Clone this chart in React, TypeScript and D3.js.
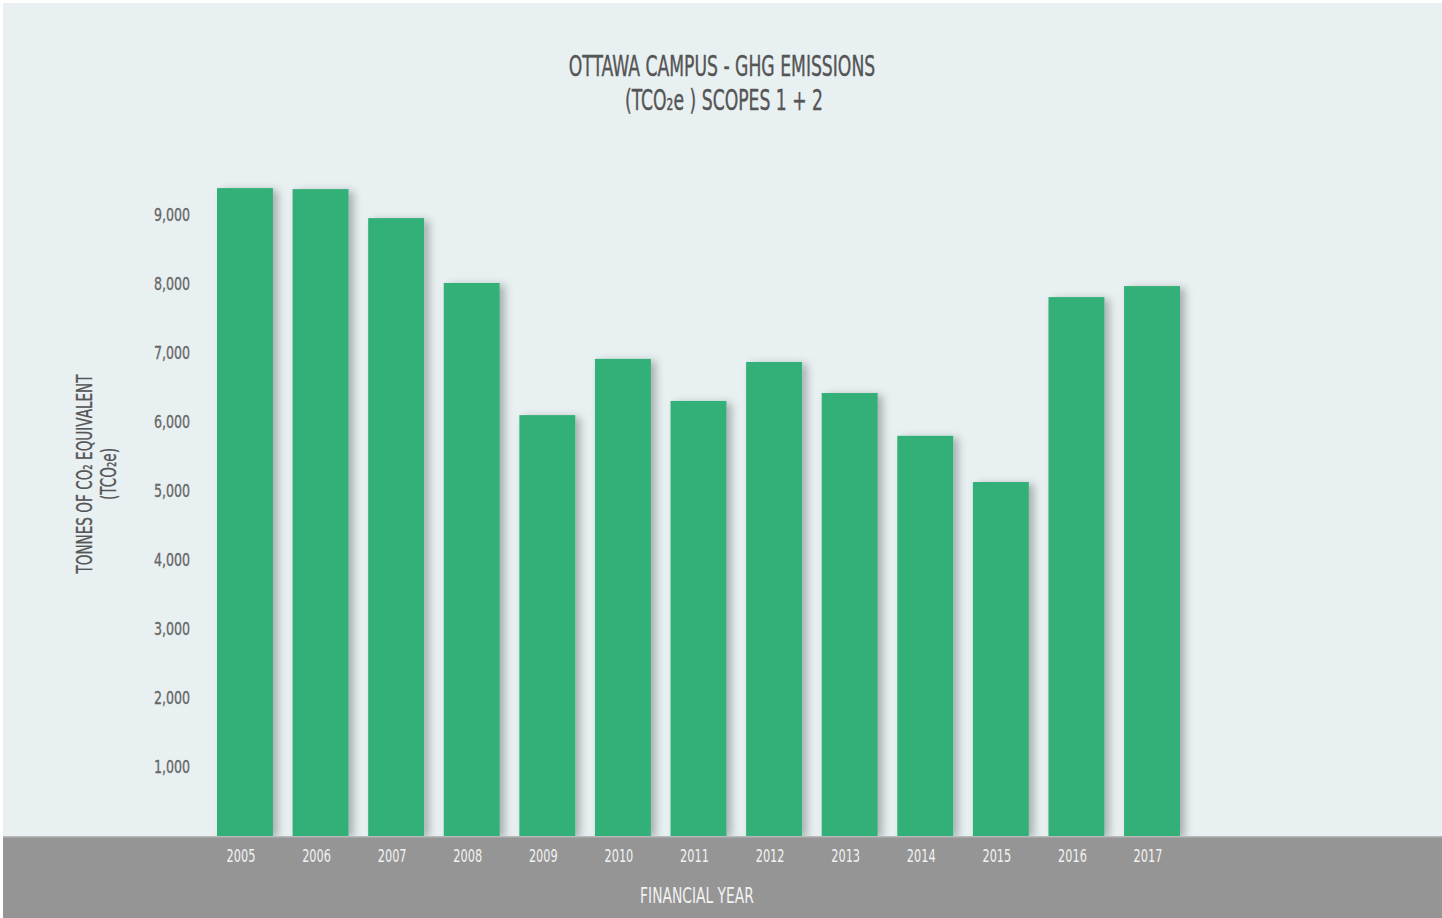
import React from "react";
import * as d3 from "d3";

const years = ["2005","2006","2007","2008","2009","2010","2011","2012","2013","2014","2015","2016","2017"];
const emissions = [9390, 9375, 8955, 8015, 6100, 6915, 6305, 6870, 6420, 5800, 5130, 7810, 7970];
const yTicks = [1000, 2000, 3000, 4000, 5000, 6000, 7000, 8000, 9000];
const titleLines = ["OTTAWA CAMPUS - GHG EMISSIONS", "(TCO₂e ) SCOPES 1 + 2"];
const yLabelLines = ["TONNES OF CO₂ EQUIVALENT", "(TCO₂e)"];
const xLabel = "FINANCIAL YEAR";

const W = 1442, H = 918;
const FONT = "'DejaVu Sans Condensed', 'Liberation Sans Narrow', 'DejaVu Sans', sans-serif";

function CText(props: { x: number; y: number; sx: number; rotate?: number; children: React.ReactNode; [k: string]: any }) {
  const { x, y, sx, rotate, children, ...rest } = props;
  const t = `translate(${x},${y})${rotate ? ` rotate(${rotate})` : ""} scale(${sx},1)`;
  return <text transform={t} {...rest}>{children}</text>;
}

export default function App() {
  const x = d3.scaleBand<string>().domain(years).range([217, 1180]).paddingInner(0.26).paddingOuter(0);
  const y = d3.scaleLinear().domain([0, 10000]).range([836, 146]);
  const fmt = d3.format(",");
  const base = y(0);
  return (
    <svg width={W} height={H} style={{ position: "absolute", left: 0, top: 0, display: "block" }}>
      <defs>
        <filter id="shadow" x="-20%" y="-10%" width="160%" height="130%">
          <feDropShadow dx="5" dy="2" stdDeviation="4" floodColor="#000" floodOpacity="0.28" />
        </filter>
      </defs>
      <rect x={0} y={0} width={W} height={H} fill="#ffffff" />
      <rect x={3} y={3} width={W - 3} height={H - 3} fill="#e8f0f2" />
      <g fontFamily={FONT} fill="#555" textAnchor="middle" fontSize={29} stroke="#555" strokeWidth={0.4}>
        <CText x={722} y={76} sx={0.66}>{titleLines[0]}</CText>
        <CText x={724} y={110} sx={0.66}>{titleLines[1]}</CText>
      </g>
      <g fontFamily={FONT} fill="#666" fontSize={18} textAnchor="end" stroke="#666" strokeWidth={0.3}>
        {yTicks.map(t => (
          <CText key={t} x={190} y={y(t) + 6} sx={0.78}>{fmt(t)}</CText>
        ))}
      </g>
      <g fontFamily={FONT} fill="#555" fontSize={21} textAnchor="middle" stroke="#555" strokeWidth={0.3}>
        <CText x={92} y={474} sx={0.72} rotate={-90}>{yLabelLines[0]}</CText>
        <CText x={116} y={474} sx={0.72} rotate={-90}>{yLabelLines[1]}</CText>
      </g>
      <g filter="url(#shadow)">
        {years.map((yr, i) => (
          <rect key={yr} x={x(yr)} y={y(emissions[i])} width={x.bandwidth()} height={base - y(emissions[i])} fill="#33b077" />
        ))}
      </g>
      <rect x={3} y={base} width={W - 3} height={H - base} fill="#959595" />
      <rect x={3} y={base} width={W - 3} height={1.5} fill="#b5b8b9" />
      <g fontFamily={FONT} fill="#f2f2f2" fontSize={18} textAnchor="middle">
        {years.map(yr => (
          <CText key={yr} x={(x(yr) as number) + x.bandwidth() / 2 - 4} y={862} sx={0.7}>{yr}</CText>
        ))}
        <CText x={697} y={903} sx={0.7} fontSize={22}>{xLabel}</CText>
      </g>
    </svg>
  );
}
